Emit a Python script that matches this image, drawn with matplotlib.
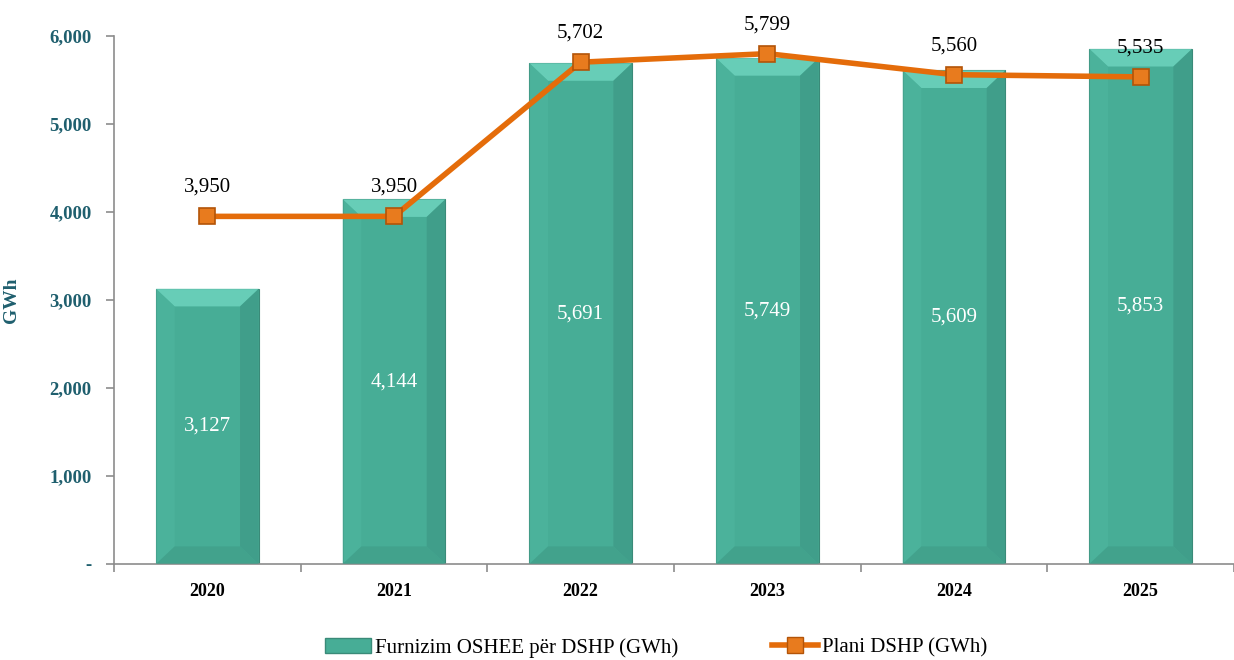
import matplotlib
matplotlib.use("Agg")
import matplotlib.pyplot as plt
from matplotlib.patches import Polygon
from matplotlib.lines import Line2D
from matplotlib.patches import Patch
import numpy as np

years = ["2020", "2021", "2022", "2023", "2024", "2025"]
furnizim = [3127, 4144, 5691, 5749, 5609, 5853]
plani = [3950, 3950, 5702, 5799, 5560, 5535]

bar_label = "Furnizim OSHEE për DSHP (GWh)"
line_label = "Plani DSHP (GWh)"

bar_color = "#47AD96"
bevel_top = "#72D9C3"
bevel_side = "#3C9381"
bevel_bottom = "#409E89"
orange = "#E46C0A"
teal_text = "#1F5F6E"
axis_gray = "#8C8C8C"

plt.rcParams['font.family'] = ['Liberation Serif', 'DejaVu Serif']

fig = plt.figure(figsize=(12.34, 6.6), dpi=100)
ax = fig.add_axes([0.0924, 0.1455, 0.9076, 0.80])

x = np.arange(len(years))
width = 0.55
bars = ax.bar(x, furnizim, width=width, color=bar_color, edgecolor="#3A8A78",
              linewidth=0.8, zorder=2)

# bevel look on each bar (sizes in data units)
bx = 0.1
by = 200
for b in bars:
    x0 = b.get_x()
    x1 = x0 + b.get_width()
    h = b.get_height()
    top = Polygon([[x0, h], [x1, h], [x1 - bx, h - by], [x0 + bx, h - by]],
                  closed=True, facecolor=bevel_top, edgecolor="none", alpha=0.75, zorder=3)
    right = Polygon([[x1, h], [x1, 0], [x1 - bx, by], [x1 - bx, h - by]],
                    closed=True, facecolor=bevel_side, edgecolor="none", alpha=0.55, zorder=3)
    left = Polygon([[x0, h], [x0, 0], [x0 + bx, by], [x0 + bx, h - by]],
                   closed=True, facecolor="#4FB69F", edgecolor="none", alpha=0.6, zorder=3)
    bottom = Polygon([[x0, 0], [x1, 0], [x1 - bx, by], [x0 + bx, by]],
                     closed=True, facecolor=bevel_bottom, edgecolor="none", alpha=0.7, zorder=3)
    for p in (top, right, left, bottom):
        ax.add_patch(p)
    ax.text(b.get_x() + b.get_width() / 2, h / 2, f"{h:,.0f}", ha="center", va="center",
            color="white", fontsize=15, zorder=6)

ax.plot(x, plani, color=orange, linewidth=4, marker="s", markersize=11,
        markerfacecolor="#E87B1E", markeredgecolor="#B35408", markeredgewidth=1.2, zorder=5)
for xi, v in zip(x, plani):
    ax.annotate(f"{v:,.0f}", (xi, v), xytext=(0, 14), textcoords="offset points",
                ha="center", va="bottom", fontsize=15, color="black", zorder=6)

ax.set_xlim(-0.5, 5.46)
ax.set_ylim(0, 6000)
ax.set_yticks(np.arange(0, 6001, 1000))
ax.set_yticklabels(["-"] + [f"{v:,}" for v in range(1000, 6001, 1000)])
ax.set_xticks(x)
ax.set_xticklabels(years)
ax.set_xticks(np.arange(-0.5, 5.6, 1.0), minor=True)
ax.tick_params(axis="x", which="major", length=0, pad=14, labelsize=13)
ax.tick_params(axis="x", which="minor", length=6, color=axis_gray, width=1.2)
ax.tick_params(axis="y", length=6, color=axis_gray, width=1.2, labelsize=13.5,
               labelcolor=teal_text, pad=10)
for lbl in ax.get_xticklabels():
    lbl.set_fontweight("bold")
for lbl in ax.get_yticklabels():
    lbl.set_fontweight("bold")

ax.spines["top"].set_visible(False)
ax.spines["right"].set_visible(False)
ax.spines["left"].set_color(axis_gray)
ax.spines["bottom"].set_color(axis_gray)
ax.spines["left"].set_linewidth(1.2)
ax.spines["bottom"].set_linewidth(1.2)

ax.set_ylabel("GWh", fontsize=14, fontweight="bold", color=teal_text)
ax.yaxis.set_label_coords(-0.084, 0.5)

handles = [Patch(facecolor=bar_color, edgecolor="#3A8A78", label=bar_label),
           Line2D([0], [0], color=orange, linewidth=4, marker="s", markersize=11,
                  markerfacecolor="#E87B1E", markeredgecolor="#B35408", label=line_label)]
fig.legend(handles=handles, loc="lower center", bbox_to_anchor=(0.532, -0.025), ncol=2,
           frameon=False, fontsize=15, handlelength=2.2, handletextpad=0.2, columnspacing=4.5)

fig.savefig("out.png", dpi=100)
